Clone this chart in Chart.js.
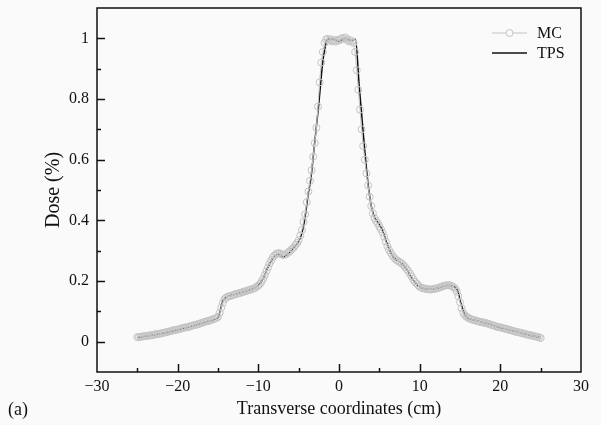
<!DOCTYPE html>
<html>
<head>
<meta charset="utf-8">
<script src="https://cdn.jsdelivr.net/npm/chart.js@4.4.1/dist/chart.umd.min.js"></script>
<style>
  html, body { margin: 0; padding: 0; background: #fafafa; }
  #wrap { width: 601px; height: 425px; }
</style>
</head>
<body>
<div id="wrap"><canvas id="c" width="601" height="425"></canvas></div>
<script>
// ---- Data ----
const seriesNames = ['MC', 'TPS'];
const xTickLabels = ['\u221230', '\u221220', '\u221210', '0', '10', '20', '30'];
const yTickLabels = ['0', '0.2', '0.4', '0.6', '0.8', '1'];

const mcX = [
  -25.0,-24.8,-24.6,-24.4,-24.2,-24.0,-23.8,-23.6,-23.4,-23.2,
  -23.0,-22.8,-22.6,-22.4,-22.2,-22.0,-21.8,-21.6,-21.4,-21.2,
  -21.0,-20.8,-20.6,-20.4,-20.2,-20.0,-19.8,-19.6,-19.4,-19.2,
  -19.0,-18.8,-18.6,-18.4,-18.2,-18.0,-17.8,-17.6,-17.4,-17.2,
  -17.0,-16.8,-16.6,-16.4,-16.2,-16.0,-15.8,-15.6,-15.4,-15.2,
  -15.0,-14.8,-14.6,-14.4,-14.2,-14.0,-13.8,-13.6,-13.4,-13.2,
  -13.0,-12.8,-12.6,-12.4,-12.2,-12.0,-11.8,-11.6,-11.4,-11.2,
  -11.0,-10.8,-10.6,-10.4,-10.2,-10.0,-9.8,-9.6,-9.4,-9.2,
  -9.0,-8.8,-8.6,-8.4,-8.2,-8.0,-7.8,-7.6,-7.4,-7.2,
  -7.0,-6.8,-6.6,-6.4,-6.2,-6.0,-5.8,-5.6,-5.4,-5.2,
  -5.0,
  -4.8,-4.6,-4.4,-4.2,-4.0,-3.8,-3.6,-3.4,-3.2,-3.0,
  -2.8,-2.6,-2.4,-2.2,-2.0,-1.8,-1.6,-1.4,-1.2,-1.0,
  -0.8,-0.6,-0.4,-0.2,0.0,0.2,0.4,0.6,0.8,1.0,
  1.2,1.4,1.6,1.8,2.0,2.2,2.4,2.6,2.8,3.0,
  3.2,3.4,3.6,3.8,4.0,4.2,4.4,4.6,4.8,
  5.0,5.2,5.4,5.6,5.8,6.0,6.2,6.4,6.6,6.8,
  7.0,7.2,7.4,7.6,7.8,8.0,8.2,8.4,8.6,8.8,
  9.0,9.2,9.4,9.6,9.8,10.0,10.2,10.4,10.6,10.8,
  11.0,11.2,11.4,11.6,11.8,12.0,12.2,12.4,12.6,12.8,
  13.0,13.2,13.4,13.6,13.8,14.0,14.2,14.4,14.6,14.8,
  15.0,15.2,15.4,15.6,15.8,16.0,16.2,16.4,16.6,16.8,
  17.0,17.2,17.4,17.6,17.8,18.0,18.2,18.4,18.6,18.8,
  19.0,19.2,19.4,19.6,19.8,20.0,20.2,20.4,20.6,20.8,
  21.0,21.2,21.4,21.6,21.8,22.0,22.2,22.4,22.6,22.8,
  23.0,23.2,23.4,23.6,23.8,24.0,24.2,24.4,24.6,24.8,
  25.0
];
const mcY = [
  0.015,0.015,0.016,0.017,0.018,0.018,0.019,0.020,0.021,0.021,
  0.022,0.024,0.025,0.025,0.026,0.028,0.029,0.030,0.031,0.033,
  0.034,0.035,0.037,0.038,0.039,0.040,0.041,0.043,0.045,0.046,
  0.047,0.048,0.049,0.051,0.053,0.054,0.055,0.057,0.058,0.060,
  0.062,0.064,0.066,0.067,0.068,0.070,0.072,0.074,0.076,0.078,
  0.082,0.095,0.112,0.128,0.140,0.145,0.148,0.150,0.151,0.153,
  0.155,0.157,0.158,0.160,0.161,0.163,0.165,0.166,0.168,0.170,
  0.171,0.173,0.175,0.177,0.181,0.185,0.190,0.198,0.208,0.220,
  0.232,0.245,0.258,0.268,0.278,0.284,0.289,0.291,0.292,0.289,
  0.286,0.286,0.288,0.292,0.296,0.301,0.306,0.311,0.318,0.325,
  0.334,
  0.350,0.368,0.395,0.420,0.460,0.495,0.530,0.565,0.610,0.655,
  0.705,0.775,0.855,0.920,0.955,0.985,0.996,0.998,0.992,0.997,
  0.990,0.994,0.989,0.995,0.993,0.997,1.001,0.998,1.003,0.996,
  0.990,0.994,0.990,0.985,0.955,0.895,0.830,0.765,0.700,0.645,
  0.600,0.555,0.515,0.478,0.447,0.423,0.407,0.398,0.390,
  0.380,0.371,0.360,0.346,0.330,0.315,0.303,0.293,0.285,0.278,
  0.272,0.268,0.264,0.261,0.257,0.252,0.246,0.239,0.232,0.224,
  0.215,0.206,0.198,0.192,0.186,0.181,0.178,0.176,0.175,0.174,
  0.173,0.172,0.172,0.173,0.174,0.175,0.176,0.178,0.180,0.182,
  0.184,0.185,0.186,0.186,0.185,0.183,0.180,0.175,0.165,0.150,
  0.130,0.110,0.095,0.087,0.082,0.079,0.076,0.074,0.072,0.071,
  0.069,0.067,0.066,0.065,0.064,0.062,0.061,0.060,0.058,0.056,
  0.055,0.053,0.051,0.049,0.048,0.047,0.046,0.044,0.043,0.041,
  0.040,0.038,0.037,0.035,0.034,0.032,0.031,0.030,0.029,0.027,
  0.026,0.024,0.023,0.022,0.021,0.019,0.018,0.017,0.016,0.014,
  0.012
];

const tpsX = [
  -25,-23,-21,-19,-17,-15.8,-15,-14.7,-14.4,-14,-13,-12,-11,-10.2,-9.7,-9.3,-8.9,-8.5,-8.1,-7.6,
  -7.2,-6.9,-6.4,-5.9,-5.3,-4.8,-4.4,-4.1,-3.8,-3.5,-3,-2.5,-2,-1.75,-1.5,-0.9,0,0.8,1.4,2.05,
  2.5,3,3.5,3.8,4.1,4.5,4.9,5.4,5.8,6.2,6.6,7,7.5,8,8.5,9,9.5,10,10.5,11.1,
  11.7,12.3,13,13.5,14,14.5,14.8,15,15.3,15.6,16,16.6,17.5,18.5,19.5,20.5,21.5,22.5,23.5,25
];
const tpsY = [
  0.013,0.022,0.033,0.046,0.061,0.071,0.080,0.105,0.133,0.146,0.155,0.163,0.171,0.181,0.195,0.214,0.240,0.262,0.280,0.288,
  0.283,0.279,0.288,0.302,0.320,0.342,0.380,0.430,0.490,0.535,0.660,0.785,0.925,0.965,0.995,0.998,0.990,1.000,0.993,0.997,
  0.845,0.690,0.545,0.480,0.435,0.405,0.390,0.366,0.335,0.305,0.285,0.272,0.263,0.252,0.235,0.212,0.193,0.181,0.175,0.173,
  0.174,0.177,0.184,0.186,0.183,0.177,0.160,0.137,0.110,0.088,0.078,0.072,0.066,0.059,0.050,0.043,0.036,0.029,0.022,0.013
];

// ---- Styling ----
const SERIF = '"Liberation Serif", "Times New Roman", serif';
const INK = '#111111';
const MC_COLOR = '#c4c4c4';

const framePlugin = {
  id: 'frameTicksLegend',
  afterDatasetsDraw(chart) {
    const {ctx, chartArea: a, scales} = chart;
    const xs = scales.x, ys = scales.y;
    ctx.save();
    ctx.strokeStyle = INK;
    ctx.lineWidth = 1.5;
    ctx.strokeRect(a.left, a.top, a.right - a.left, a.bottom - a.top);
    for (let v = -25; v <= 25; v += 5) {
      const px = Math.round(xs.getPixelForValue(v)) + 0.5;
      const len = (v % 10 === 0) ? 8 : 4;
      ctx.beginPath();
      ctx.moveTo(px, a.bottom);
      ctx.lineTo(px, a.bottom - len);
      ctx.stroke();
    }
    for (let k = 0; k <= 10; k++) {
      const v = k / 10;
      const py = Math.round(ys.getPixelForValue(v)) + 0.5;
      const len = (k % 2 === 0) ? 8 : 4;
      ctx.beginPath();
      ctx.moveTo(a.left, py);
      ctx.lineTo(a.left + len, py);
      ctx.stroke();
    }
    // legend
    const ds = chart.data.datasets;
    const x0 = a.right - 89, x1 = a.right - 54, tx = a.right - 44;
    const rows = [a.top + 25, a.top + 45];
    ctx.font = '16px ' + SERIF;
    ctx.textBaseline = 'middle';
    ctx.textAlign = 'left';
    ds.forEach((d, i) => {
      const y = rows[i];
      ctx.strokeStyle = d.borderColor;
      ctx.lineWidth = d.borderWidth;
      ctx.beginPath();
      ctx.moveTo(x0, y);
      ctx.lineTo(x1, y);
      ctx.stroke();
      if (d.pointRadius > 0) {
        ctx.fillStyle = '#fafafa';
        ctx.beginPath();
        ctx.arc((x0 + x1) / 2, y, d.pointRadius, 0, Math.PI * 2);
        ctx.fill();
        ctx.strokeStyle = d.pointBorderColor;
        ctx.lineWidth = d.pointBorderWidth;
        ctx.stroke();
      }
      ctx.fillStyle = INK;
      ctx.fillText(d.label, tx, y + 1);
    });
    ctx.font = '18px ' + SERIF;
    ctx.fillStyle = INK;
    ctx.textBaseline = 'middle';
    ctx.fillText('(a)', 8, 410);
    ctx.restore();
  }
};

const bgPlugin = {
  id: 'bg',
  beforeDraw(chart) {
    const {ctx} = chart;
    ctx.save();
    ctx.fillStyle = '#fafafa';
    ctx.fillRect(0, 0, chart.width, chart.height);
    ctx.restore();
  }
};

new Chart(document.getElementById('c'), {
  type: 'line',
  data: {
    datasets: [
      {
        label: seriesNames[0],
        data: mcX.map((x, i) => ({x: x, y: mcY[i]})),
        borderColor: MC_COLOR,
        borderWidth: 1,
        pointRadius: 3.5,
        pointStyle: 'circle',
        pointBackgroundColor: 'rgba(0,0,0,0)',
        pointBorderColor: MC_COLOR,
        pointBorderWidth: 1,
        tension: 0
      },
      {
        label: seriesNames[1],
        data: tpsX.map((x, i) => ({x: x, y: tpsY[i]})),
        borderColor: INK,
        borderWidth: 1.5,
        pointRadius: 0,
        cubicInterpolationMode: 'monotone'
      }
    ]
  },
  options: {
    responsive: false,
    animation: false,
    devicePixelRatio: 1,
    layout: { padding: { left: 0, top: 8, right: 20, bottom: 0 } },
    plugins: { legend: { display: false }, tooltip: { enabled: false } },
    scales: {
      x: {
        type: 'linear',
        min: -30, max: 30,
        grid: { display: false, drawTicks: false },
        border: { display: false },
        ticks: {
          stepSize: 10,
          autoSkip: false,
          maxRotation: 0,
          padding: 5,
          color: INK,
          font: { family: SERIF, size: 16 },
          callback: (v) => {
            const idx = Math.round((v + 30) / 10);
            return (Math.abs(v - (idx * 10 - 30)) < 1e-6) ? xTickLabels[idx] : '';
          }
        },
        title: {
          display: true,
          text: 'Transverse coordinates (cm)',
          color: INK,
          font: { family: SERIF, size: 18 },
          padding: { top: 0, bottom: 5 }
        },
        afterFit: (s) => { s.height = 53; s.paddingLeft = 0; s.paddingRight = 0; }
      },
      y: {
        type: 'linear',
        min: -0.1, max: 1.1,
        grid: { display: false, drawTicks: false },
        border: { display: false },
        ticks: {
          stepSize: 0.1,
          autoSkip: false,
          padding: 8,
          color: INK,
          font: { family: SERIF, size: 16 },
          callback: (v) => {
            const k = Math.round(v * 10);
            if (k < 0 || k > 10 || k % 2 !== 0) return '';
            return yTickLabels[k / 2];
          }
        },
        title: {
          display: true,
          text: 'Dose (%)',
          color: INK,
          font: { family: SERIF, size: 20 },
          padding: { top: 42, bottom: 0 }
        },
        afterFit: (s) => { s.width = 97; s.paddingTop = 0; s.paddingBottom = 0; }
      }
    }
  },
  plugins: [bgPlugin, framePlugin]
});
</script>
</body>
</html>
